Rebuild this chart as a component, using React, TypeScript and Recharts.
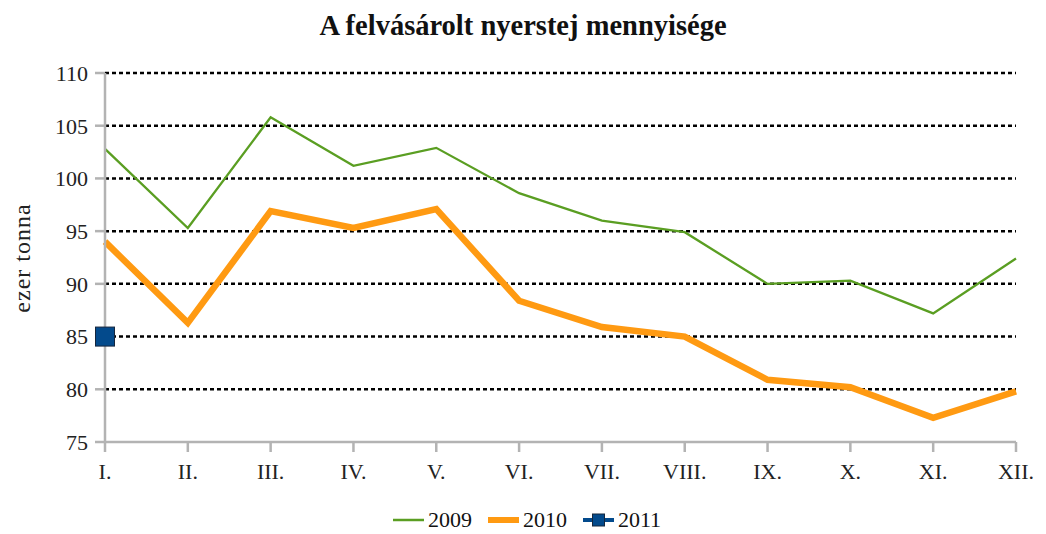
import { LineChart, Line, XAxis, YAxis, CartesianGrid } from 'recharts'

const months = ['I.', 'II.', 'III.', 'IV.', 'V.', 'VI.', 'VII.', 'VIII.', 'IX.', 'X.', 'XI.', 'XII.']
const v2009 = [102.8, 95.3, 105.8, 101.2, 102.9, 98.6, 96.0, 94.9, 90.0, 90.3, 87.2, 92.4]
const v2010 = [94.0, 86.3, 96.9, 95.3, 97.1, 88.4, 85.9, 85.0, 80.9, 80.2, 77.3, 79.8]
const v2011: (number | null)[] = [85.0, null, null, null, null, null, null, null, null, null, null, null]
const yTicks = [75, 80, 85, 90, 95, 100, 105, 110]
const gridValues = [80, 85, 90, 95, 100, 105, 110]

const data = months.map((m, i) => ({ month: m, y2009: v2009[i], y2010: v2010[i], y2011: v2011[i] }))

const FONT = "'Liberation Serif', 'DejaVu Serif', serif"
const AXIS = '#b3b3b3'
const GREEN = '#5a9e22'
const ORANGE = '#ff9a12'
const BLUE = '#034a8c'

const SquareDot = (props: any) => {
  const { cx, cy, value, index } = props
  if (value == null || cx == null || cy == null) return <g key={index} />
  return <rect key={index} x={cx - 9.5} y={cy - 9.5} width={19} height={19} fill={BLUE} stroke="#15263d" strokeWidth={1} />
}

// legend drawn as plain html under the chart
const LegendBox = () => {
  const item = (icon: any, label: string, gap: number) => (
    <div style={{ display: 'flex', alignItems: 'center', marginRight: gap }}>
      <svg width={31} height={16} style={{ marginRight: 4 }}>{icon}</svg>
      <span>{label}</span>
    </div>
  )
  return (
    <div style={{
      position: 'absolute', left: 0, top: 506, width: 1046, display: 'flex', justifyContent: 'center',
      fontFamily: FONT, fontSize: 22, color: '#111', paddingLeft: 4, lineHeight: '28px',
    }}>
      {item(<line x1={0} x2={31} y1={8} y2={8} stroke={GREEN} strokeWidth={2.5} />, '2009', 16)}
      {item(<line x1={0} x2={31} y1={8} y2={8} stroke={ORANGE} strokeWidth={6} />, '2010', 16)}
      {item(
        <g>
          <line x1={0} x2={31} y1={8} y2={8} stroke={BLUE} strokeWidth={4} />
          <rect x={9.5} y={2} width={12} height={12} fill={BLUE} stroke="#15263d" strokeWidth={1} />
        </g>,
        '2011', 0)}
    </div>
  )
}

export default function App() {
  return (
    <div style={{ position: 'fixed', left: 0, top: 0, width: 1046, height: 534, background: '#fff', fontFamily: FONT }}>
      <div style={{
        position: 'absolute', left: 0, top: 10, width: 1046, textAlign: 'center',
        fontFamily: FONT, fontWeight: 700, fontSize: 28.5, color: '#111',
      }}>
        A felvásárolt nyerstej mennyisége
      </div>
      <LineChart width={1046} height={534} data={data} margin={{ top: 73, right: 30, left: 0, bottom: 62 }}
        style={{ fontFamily: FONT }}>
        <CartesianGrid horizontal vertical={false} horizontalValues={gridValues}
          stroke="#000" strokeWidth={2.5} strokeDasharray="4 3" />
        <XAxis
          dataKey="month"
          height={30}
          stroke={AXIS}
          strokeWidth={2.5}
          tickSize={10}
          tickMargin={11}
          tick={{ fill: '#222', fontSize: 22, fontFamily: FONT }}
          interval={0}
        />
        <YAxis
          domain={[75, 110]}
          ticks={yTicks}
          width={105}
          stroke={AXIS}
          strokeWidth={2.5}
          tickSize={10}
          tickMargin={7}
          tick={{ fill: '#222', fontSize: 22, fontFamily: FONT }}
          label={{
            content: () => (
              <text x={22} y={258} transform="rotate(-90 22 258)" textAnchor="middle" dominantBaseline="central"
                style={{ fontFamily: FONT, letterSpacing: 1 }} fontSize={24} fill="#222">ezer tonna</text>
            ),
          }}
        />
        <Line dataKey="y2009" stroke={GREEN} strokeWidth={2.3} dot={false} isAnimationActive={false} />
        <Line dataKey="y2010" stroke={ORANGE} strokeWidth={6.5} dot={false} isAnimationActive={false} />
        <Line dataKey="y2011" stroke={BLUE} strokeWidth={3} dot={<SquareDot />} activeDot={false} isAnimationActive={false} />
      </LineChart>
      <LegendBox />
    </div>
  )
}
